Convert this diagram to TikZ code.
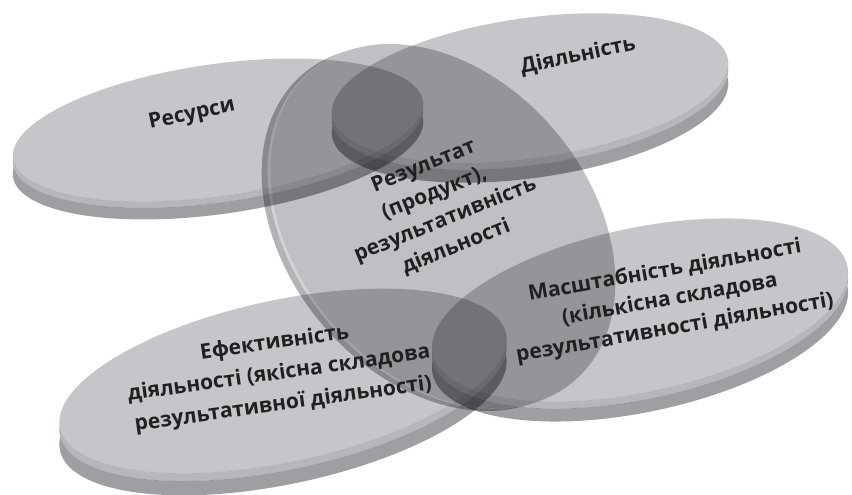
\documentclass[tikz,border=0pt]{standalone}
\usepackage{fontspec}
\setmainfont{Open Sans}
\definecolor{facec}{RGB}{197,198,201}
\definecolor{rimc}{RGB}{158,159,162}
\definecolor{rimhl}{RGB}{182,183,186}
\definecolor{textc}{RGB}{35,31,32}
\tikzset{
  lbl/.style={font=\bfseries\fontsize{21}{29}\selectfont, align=center, text=textc, inner sep=0pt},
}
% #1 cx, #2 cy (downwards), #3 a, #4 b, #5 angle, #6 rim dx, #7 rim dy (screen, up positive)
\newcommand\mydisk[7]{%
  \begin{scope}[shift={(#1,-#2)}, rotate=#5, even odd rule]
    \begin{scope}
      \clip (-3000,-3000) rectangle (3000,3000) (0,0) ellipse [x radius=#3, y radius=#4];
      \begin{scope}
        \clip (-3000,-3000) rectangle (3000,3000)
          ({0.35*(#6*cos(#5)+#7*sin(#5))},{0.35*(-#6*sin(#5)+#7*cos(#5))}) ellipse [x radius=#3, y radius=#4];
        \fill[rimc] ({#6*cos(#5)+#7*sin(#5)},{-#6*sin(#5)+#7*cos(#5)}) ellipse [x radius=#3, y radius=#4];
      \end{scope}
      \fill[rimhl] ({0.35*(#6*cos(#5)+#7*sin(#5))},{0.35*(-#6*sin(#5)+#7*cos(#5))}) ellipse [x radius=#3, y radius=#4];
    \end{scope}
    \fill[facec] (0,0) ellipse [x radius=#3, y radius=#4];
  \end{scope}
}
\begin{document}
\begin{tikzpicture}[x=1pt,y=1pt]
\useasboundingbox (0,0) rectangle (852,-495);
\fill[white] (0,0) rectangle (852,-495);
\begin{scope}[blend mode=multiply]
  \mydisk{218}{130}{207}{66}{8}{0}{-18}
  \mydisk{530}{88}{200}{70}{8}{0}{-20}
  \mydisk{283}{381}{228}{81}{12}{0}{-22}
  \mydisk{640}{310}{212}{82}{12}{0}{-20}
  \begin{scope}
    \colorlet{facec}{black!3!facec}
    \colorlet{rimc}{black!2!rimhl}
    \colorlet{rimhl}{white!30!facec}
    \mydisk{443}{226}{203}{147}{-50}{-9}{-3}
  \end{scope}
\end{scope}
\node[lbl, rotate=12] (res) at (192,-115) {Ресурси};
\node[lbl, rotate=12] (dial) at (578,-56) {Діяльність};
\node[lbl, rotate=22] (cen) at (440,-207) {Результат\\(продукт),\\результативність\\діяльності};
\node[lbl, rotate=8, font=\bfseries\fontsize{21}{31}\selectfont] (efe) at (279,-374) {Ефективність\\діяльності (якісна складова\\результативної діяльності)};
\node[lbl, rotate=10] (mas) at (670,-300) {Масштабність діяльності\\(кількісна складова\\результативності діяльності)};
\end{tikzpicture}
\end{document}
